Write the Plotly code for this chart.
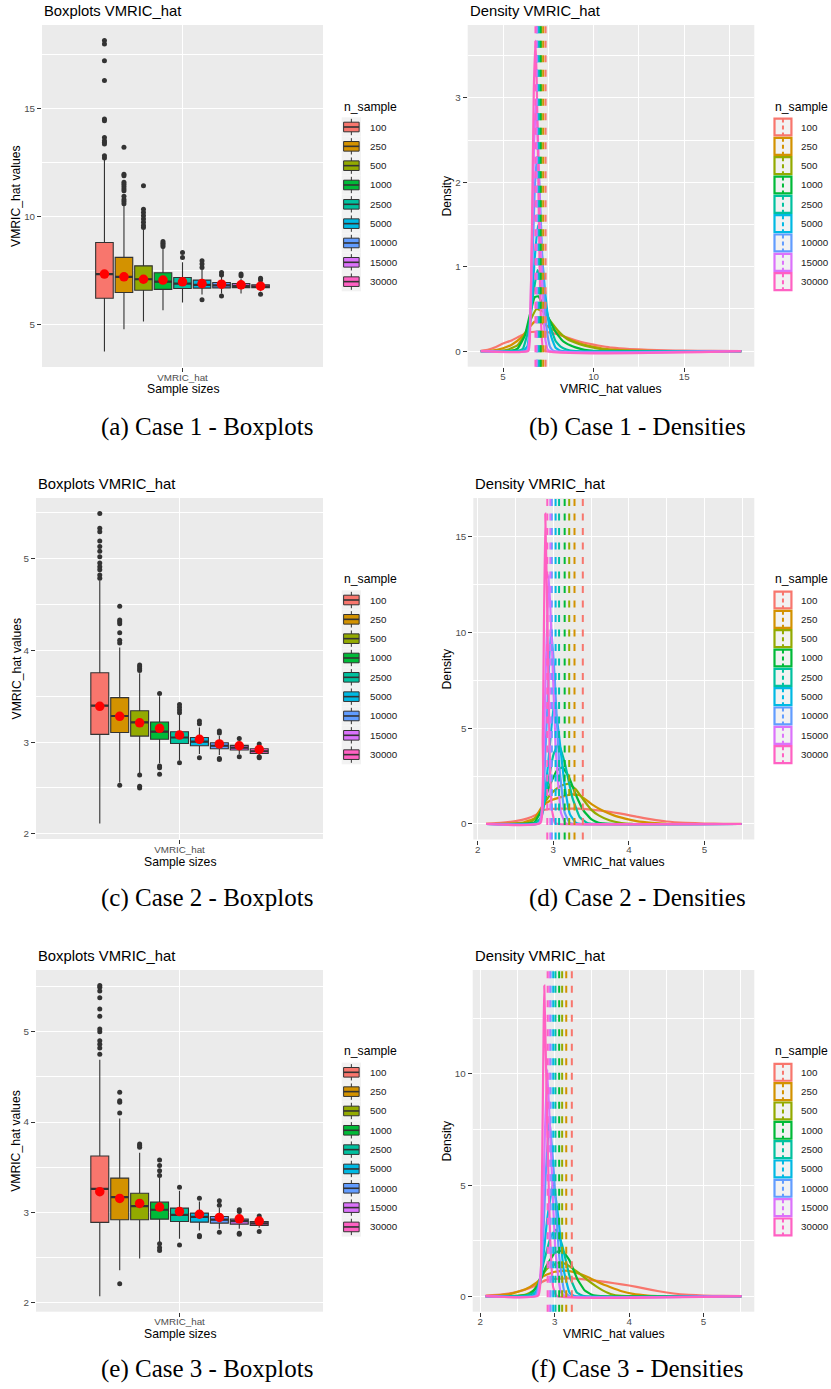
import numpy as np
import plotly.graph_objects as go

W, H = 831, 1389

n_sample = ["100", "250", "500", "1000", "2500", "5000", "10000", "15000", "30000"]
palette = ["#F8766D", "#D39200", "#93AA00", "#00BA38", "#00C19F",
           "#00B9E3", "#619CFF", "#DB72FB", "#FF61C3"]

# ---------------- Case 1 : boxplot statistics ----------------
case1_q1 = [6.23, 6.50, 6.60, 6.64, 6.68, 6.70, 6.71, 6.72, 6.72]
case1_med = [7.35, 7.22, 7.11, 7.00, 6.91, 6.85, 6.83, 6.80, 6.77]
case1_q3 = [8.81, 8.12, 7.73, 7.41, 7.19, 7.07, 6.96, 6.91, 6.85]
case1_lo = [3.77, 4.80, 5.15, 5.68, 6.03, 6.40, 6.45, 6.45, 6.55]
case1_hi = [12.65, 10.55, 9.40, 8.55, 7.90, 7.55, 7.25, 7.15, 7.00]
case1_mean = [7.35, 7.22, 7.11, 7.07, 6.99, 6.91, 6.88, 6.85, 6.79]
case1_out = [
    [12.72, 12.82, 13.36, 13.45, 13.52, 13.67, 14.44, 14.52, 16.30, 17.22, 17.99, 18.15],
    [10.60, 10.70, 10.80, 10.95, 11.20, 11.30, 11.40, 11.50, 11.60, 11.90, 11.97, 13.21],
    [9.50, 9.60, 9.75, 9.90, 10.05, 10.20, 10.35, 11.43],
    [8.62, 8.70, 8.78, 8.85],
    [8.12, 8.35],
    [6.16, 7.65, 7.81, 7.96],
    [6.33, 7.31, 7.42],
    [7.27, 7.35],
    [6.42, 7.08, 7.16],
]

# ---------------- Case 2 ----------------
case2_q1 = [3.084, 3.105, 3.065, 3.030, 2.985, 2.960, 2.927, 2.913, 2.876]
case2_med = [3.396, 3.284, 3.215, 3.113, 3.050, 3.004, 2.960, 2.940, 2.900]
case2_q3 = [3.756, 3.484, 3.342, 3.218, 3.113, 3.050, 2.993, 2.964, 2.927]
case2_lo = [2.113, 2.56, 2.66, 2.77, 2.80, 2.87, 2.86, 2.87, 2.85]
case2_hi = [4.76, 4.03, 3.75, 3.50, 3.30, 3.16, 3.07, 3.02, 2.96]
case2_mean = [3.39, 3.28, 3.21, 3.15, 3.076, 3.03, 2.98, 2.96, 2.92]
case2_out = [
    [4.785, 4.82, 4.876, 4.91, 4.95, 5.02, 5.08, 5.13, 5.19, 5.29, 5.33, 5.49],
    [2.53, 4.08, 4.11, 4.19, 4.29, 4.31, 4.33, 4.48],
    [2.50, 2.52, 2.64, 3.78, 3.80, 3.82, 3.84],
    [2.65, 2.72, 2.74, 3.53],
    [2.775, 3.32, 3.35, 3.38, 3.41],
    [2.83, 3.20, 3.23],
    [2.81, 2.82, 3.10, 3.12],
    [2.84, 3.04],
    [2.83, 2.84, 2.98],
]

# ---------------- Case 3 ----------------
case3_q1 = [2.890, 2.920, 2.920, 2.926, 2.900, 2.893, 2.882, 2.871, 2.857]
case3_med = [3.260, 3.170, 3.070, 3.030, 2.974, 2.950, 2.920, 2.905, 2.880]
case3_q3 = [3.625, 3.380, 3.213, 3.114, 3.048, 2.993, 2.956, 2.926, 2.900]
case3_lo = [2.074, 2.36, 2.49, 2.66, 2.71, 2.80, 2.82, 2.82, 2.83]
case3_hi = [4.69, 4.04, 3.66, 3.38, 3.24, 3.12, 3.05, 3.00, 2.95]
case3_mean = [3.23, 3.155, 3.10, 3.06, 3.01, 2.98, 2.945, 2.93, 2.905]
case3_out = [
    [4.75, 4.82, 4.86, 4.90, 5.00, 5.03, 5.17, 5.25, 5.375, 5.45, 5.49, 5.51],
    [2.21, 4.10, 4.22, 4.235, 4.33],
    [3.72, 3.74, 3.757],
    [2.58, 2.61, 2.655, 3.41, 3.46, 3.52, 3.58],
    [2.64, 3.28],
    [2.73, 2.746, 3.158],
    [2.78, 3.08, 3.13],
    [2.76, 2.77, 3.01, 3.03],
    [2.79, 2.96],
]

# ---------------- Density curves ----------------
dens1_x = [
    [3.77, 4.2, 4.5, 5.0, 5.5, 6.0, 6.4, 6.8, 7.2, 7.6, 8.0, 8.5, 9.0, 9.5, 10.0, 10.5, 11.0, 12.0, 13.0, 14.0, 15.0, 16.5, 18.15],
    [3.77, 4.3, 5.0, 5.5, 6.0, 6.4, 6.75, 7.1, 7.5, 8.0, 8.5, 9.0, 9.5, 10.0, 10.5, 11.0, 12.0, 13.0, 14.0, 18.15],
    [3.77, 4.8, 5.3, 5.8, 6.2, 6.5, 6.85, 7.2, 7.6, 8.0, 8.5, 9.0, 9.5, 10.0, 10.5, 11.5, 12.5, 18.15],
    [3.77, 5.4, 5.8, 6.2, 6.5, 6.75, 6.95, 7.2, 7.5, 7.9, 8.3, 8.7, 9.0, 9.5, 10.0, 18.15],
    [3.77, 5.8, 6.1, 6.4, 6.65, 6.9, 7.1, 7.35, 7.6, 7.9, 8.2, 8.5, 9.0, 18.15],
    [3.77, 6.1, 6.35, 6.55, 6.75, 6.92, 7.1, 7.3, 7.45, 7.65, 7.9, 8.2, 18.15],
    [3.77, 6.3, 6.45, 6.6, 6.75, 6.87, 7.0, 7.15, 7.3, 7.45, 7.6, 7.8, 18.15],
    [3.77, 6.35, 6.47, 6.6, 6.72, 6.83, 6.95, 7.08, 7.2, 7.35, 7.5, 18.15],
    [3.77, 6.4, 6.5, 6.6, 6.7, 6.79, 6.86, 6.93, 7.02, 7.12, 7.25, 18.15],
]
dens1_y = [
    [0.005, 0.02, 0.04, 0.09, 0.13, 0.185, 0.22, 0.23, 0.23, 0.22, 0.2, 0.165, 0.13, 0.1, 0.077, 0.058, 0.042, 0.025, 0.016, 0.01, 0.006, 0.003, 0.001],
    [0.0, 0.005, 0.035, 0.08, 0.16, 0.27, 0.35, 0.34, 0.29, 0.22, 0.16, 0.11, 0.075, 0.05, 0.032, 0.02, 0.008, 0.003, 0.001, 0.0],
    [0.0, 0.003, 0.02, 0.07, 0.19, 0.36, 0.5, 0.47, 0.36, 0.25, 0.15, 0.1, 0.065, 0.04, 0.022, 0.007, 0.001, 0.0],
    [0.0, 0.003, 0.03, 0.18, 0.45, 0.64, 0.65, 0.55, 0.4, 0.23, 0.12, 0.07, 0.045, 0.015, 0.003, 0.0],
    [0.0, 0.003, 0.03, 0.25, 0.65, 0.96, 0.85, 0.55, 0.3, 0.12, 0.05, 0.02, 0.002, 0.0],
    [0.0, 0.003, 0.06, 0.45, 1.1, 1.49, 1.25, 0.75, 0.45, 0.18, 0.04, 0.003, 0.0],
    [0.0, 0.003, 0.15, 0.9, 1.9, 2.3, 2.0, 1.2, 0.55, 0.2, 0.05, 0.003, 0.0],
    [0.0, 0.003, 0.2, 1.3, 2.5, 2.95, 2.4, 1.3, 0.55, 0.12, 0.01, 0.0],
    [0.0, 0.003, 0.3, 1.5, 3.1, 3.68, 3.2, 2.3, 1.0, 0.25, 0.01, 0.0],
]

dens2_x = [
    [2.11, 2.3, 2.5, 2.65, 2.78, 2.85, 2.95, 3.1, 3.3, 3.5, 3.65, 3.8, 3.95, 4.1, 4.3, 4.5, 4.75, 5.0, 5.25, 5.49],
    [2.11, 2.4, 2.6, 2.75, 2.85, 2.95, 3.1, 3.25, 3.35, 3.5, 3.65, 3.8, 3.95, 4.1, 4.3, 4.5, 5.49],
    [2.11, 2.55, 2.7, 2.82, 2.9, 3.0, 3.1, 3.2, 3.3, 3.4, 3.5, 3.6, 3.75, 3.9, 4.05, 5.49],
    [2.11, 2.6, 2.75, 2.85, 2.95, 3.05, 3.12, 3.2, 3.3, 3.4, 3.5, 3.6, 3.75, 5.49],
    [2.11, 2.75, 2.83, 2.9, 3.0, 3.07, 3.15, 3.25, 3.35, 3.45, 3.55, 5.49],
    [2.11, 2.8, 2.86, 2.94, 3.01, 3.07, 3.15, 3.22, 3.3, 3.38, 5.49],
    [2.11, 2.81, 2.86, 2.92, 2.97, 3.02, 3.08, 3.15, 3.22, 3.28, 5.49],
    [2.11, 2.82, 2.86, 2.9, 2.94, 2.98, 3.03, 3.1, 3.16, 3.2, 5.49],
    [2.11, 2.83, 2.86, 2.893, 2.92, 2.95, 2.98, 3.02, 3.06, 5.49],
]
dens2_y = [
    [0.02, 0.06, 0.15, 0.28, 0.5, 0.7, 0.78, 0.8, 0.8, 0.75, 0.68, 0.6, 0.5, 0.38, 0.24, 0.13, 0.06, 0.025, 0.008, 0.002],
    [0.0, 0.01, 0.07, 0.3, 0.9, 1.2, 1.4, 1.55, 1.5, 1.05, 0.7, 0.45, 0.28, 0.15, 0.06, 0.01, 0.0],
    [0.0, 0.01, 0.1, 0.5, 1.2, 1.7, 2.0, 2.1, 1.8, 1.25, 0.75, 0.45, 0.18, 0.05, 0.005, 0.0],
    [0.0, 0.005, 0.08, 0.8, 2.0, 2.8, 2.95, 2.5, 1.5, 0.7, 0.25, 0.06, 0.005, 0.0],
    [0.0, 0.02, 0.3, 1.5, 3.6, 4.2, 3.2, 1.4, 0.35, 0.05, 0.003, 0.0],
    [0.0, 0.02, 0.6, 3.5, 6.35, 4.8, 2.0, 0.5, 0.06, 0.0, 0.0],
    [0.0, 0.03, 1.0, 6.0, 10.4, 7.5, 3.0, 0.6, 0.04, 0.0, 0.0],
    [0.0, 0.05, 2.0, 8.0, 13.0, 9.5, 4.0, 0.6, 0.04, 0.0, 0.0],
    [0.0, 0.05, 4.5, 16.2, 11.0, 4.0, 0.8, 0.05, 0.0, 0.0],
]

dens3_x = [
    [2.07, 2.3, 2.5, 2.65, 2.78, 2.88, 3.0, 3.2, 3.4, 3.6, 3.8, 4.0, 4.2, 4.4, 4.6, 4.8, 5.0, 5.25, 5.51],
    [2.07, 2.2, 2.4, 2.6, 2.75, 2.85, 3.0, 3.15, 3.3, 3.45, 3.6, 3.75, 3.9, 4.05, 4.25, 4.45, 5.51],
    [2.07, 2.45, 2.6, 2.72, 2.8, 2.9, 3.05, 3.15, 3.3, 3.45, 3.6, 3.75, 3.9, 5.51],
    [2.07, 2.5, 2.65, 2.78, 2.88, 3.0, 3.1, 3.2, 3.3, 3.4, 3.5, 3.62, 5.51],
    [2.07, 2.6, 2.75, 2.85, 2.95, 3.02, 3.1, 3.2, 3.3, 3.4, 5.51],
    [2.07, 2.7, 2.8, 2.9, 2.98, 3.05, 3.12, 3.2, 3.27, 5.51],
    [2.07, 2.74, 2.82, 2.88, 2.93, 2.99, 3.06, 3.13, 3.2, 5.51],
    [2.07, 2.76, 2.82, 2.87, 2.9, 2.95, 3.01, 3.08, 3.14, 5.51],
    [2.07, 2.78, 2.82, 2.86, 2.9, 2.94, 2.98, 3.03, 5.51],
]
dens3_y = [
    [0.02, 0.08, 0.2, 0.35, 0.55, 0.72, 0.78, 0.8, 0.76, 0.68, 0.58, 0.48, 0.35, 0.22, 0.12, 0.06, 0.03, 0.01, 0.002],
    [0.0, 0.02, 0.1, 0.3, 0.6, 0.9, 1.1, 1.15, 1.05, 0.85, 0.6, 0.4, 0.22, 0.1, 0.03, 0.005, 0.0],
    [0.0, 0.01, 0.06, 0.25, 0.75, 1.25, 1.5, 1.45, 1.1, 0.7, 0.35, 0.1, 0.01, 0.0],
    [0.0, 0.005, 0.06, 0.5, 1.3, 1.95, 2.05, 1.6, 0.8, 0.27, 0.06, 0.0, 0.0],
    [0.0, 0.01, 0.2, 1.5, 2.7, 3.0, 2.3, 0.9, 0.15, 0.0, 0.0],
    [0.0, 0.01, 0.5, 3.5, 5.1, 3.5, 1.2, 0.15, 0.0, 0.0],
    [0.0, 0.02, 1.0, 5.5, 8.0, 5.5, 1.8, 0.2, 0.0, 0.0],
    [0.0, 0.02, 1.5, 7.5, 10.2, 6.5, 2.0, 0.2, 0.0, 0.0],
    [0.0, 0.03, 3.0, 13.98, 7.5, 2.5, 0.4, 0.0, 0.0],
]

case_labels = ["1", "2", "3"]
box_title = "Boxplots VMRIC_hat"
dens_title = "Density VMRIC_hat"

# ---------------- layout geometry (pixels of the page) ----------------
box_panels = [(42, 323, 25, 367), (36, 323, 498, 839), (36, 323, 970, 1311.7)]
dens_panels = [(467.7, 754.3, 25, 366.7), (473.3, 754.3, 498, 839.5), (472.7, 754.3, 970, 1311.7)]
title_y = [11, 484, 955.7]
xtitle_y = [389, 862.3, 1334]
leg_title_y = [106.7, 579, 1051]
leg_first_y = [127, 600, 1072.3]
caption_y = [427, 898, 1369]
KEY = 19.33

cases = [
    dict(q1=case1_q1, med=case1_med, q3=case1_q3, lo=case1_lo, hi=case1_hi, mean=case1_mean,
         out=case1_out, dx=dens1_x, dy=dens1_y, bdt=5, xdt=5, ydt=1),
    dict(q1=case2_q1, med=case2_med, q3=case2_q3, lo=case2_lo, hi=case2_hi, mean=case2_mean,
         out=case2_out, dx=dens2_x, dy=dens2_y, bdt=1, xdt=1, ydt=5),
    dict(q1=case3_q1, med=case3_med, q3=case3_q3, lo=case3_lo, hi=case3_hi, mean=case3_mean,
         out=case3_out, dx=dens3_x, dy=dens3_y, bdt=1, xdt=1, ydt=5),
]

FONT = "Liberation Sans, Arial, sans-serif"


def px(x):
    return x / W


def py(y):
    return 1 - y / H


def refs(k):
    return ("x" if k == 1 else f"x{k}", "y" if k == 1 else f"y{k}")


def expand(lo, hi, f=0.05):
    d = (hi - lo) * f
    return [lo - d, hi + d]


def axis_common(dt=None):
    d = dict(showgrid=True, gridcolor="white", gridwidth=1.1, zeroline=False, showline=False,
             ticks="outside", ticklen=4, tickwidth=1, tickcolor="#333333",
             tickfont=dict(family=FONT, size=9.8, color="#4D4D4D"))
    if dt is not None:
        d.update(dtick=dt, tick0=0,
                 minor=dict(dtick=dt / 2, tick0=0, showgrid=True, gridcolor="white",
                            gridwidth=0.55, ticks=""))
    return d


fig = go.Figure()
shapes = []
annotations = []


def text(x, y, s, size, color="black", xanchor="left", angle=0, family=FONT):
    annotations.append(dict(x=px(x), y=py(y), xref="paper", yref="paper", text=s,
                            showarrow=False, xanchor=xanchor, yanchor="middle",
                            textangle=angle, font=dict(family=family, size=size, color=color)))


def rect(x0, y0, x1, y1, fill, line_color=None, lw=0):
    shapes.append(dict(type="rect", xref="paper", yref="paper",
                       x0=px(x0), x1=px(x1), y0=py(y1), y1=py(y0),
                       fillcolor=fill, line=dict(color=line_color or fill, width=lw), layer="above"))


def seg(x0, y0, x1, y1, color, lw, dash="solid"):
    shapes.append(dict(type="line", xref="paper", yref="paper",
                       x0=px(x0), x1=px(x1), y0=py(y0), y1=py(y1),
                       line=dict(color=color, width=lw, dash=dash), layer="above"))


ncat = len(n_sample)
center = (ncat - 1) / 2
half = 0.6 / (0.75 / ncat)
letters = "abcdef"

for i, c in enumerate(cases):
    kb, kd = 2 * i + 1, 2 * i + 2
    xb, yb = refs(kb)
    xd, yd = refs(kd)

    # ---- boxplots ----
    for j, n in enumerate(n_sample):
        fig.add_trace(go.Box(x=[n], q1=[c["q1"][j]], median=[c["med"][j]], q3=[c["q3"][j]],
                             lowerfence=[c["lo"][j]], upperfence=[c["hi"][j]],
                             fillcolor=palette[j], line=dict(color="#333333", width=1.1),
                             width=0.9, whiskerwidth=0, boxpoints=False,
                             xaxis=xb, yaxis=yb, showlegend=False, hoverinfo="skip"))
        # thicker median bar (ggplot fattens the median line)
        m = c["med"][j]
        fig.add_trace(go.Box(x=[n], q1=[m], median=[m], q3=[m], lowerfence=[m], upperfence=[m],
                             fillcolor="rgba(0,0,0,0)", line=dict(color="#333333", width=2.2),
                             width=0.9, whiskerwidth=0, boxpoints=False,
                             xaxis=xb, yaxis=yb, showlegend=False, hoverinfo="skip"))
        fig.add_trace(go.Scatter(x=[n] * len(c["out"][j]), y=c["out"][j], mode="markers",
                                 marker=dict(color="#333333", size=5),
                                 xaxis=xb, yaxis=yb, showlegend=False, hoverinfo="skip"))
    fig.add_trace(go.Scatter(x=n_sample, y=c["mean"], mode="markers",
                             marker=dict(color="red", size=9.5),
                             xaxis=xb, yaxis=yb, showlegend=False, hoverinfo="skip"))

    allv = c["lo"] + c["hi"] + [v for o in c["out"] for v in o]
    yr = expand(min(allv), max(allv))

    L, R, T, B = box_panels[i]
    xa = axis_common()
    xa.update(domain=[px(L), px(R)], anchor=yb, type="category", categoryorder="array",
              categoryarray=n_sample, range=[center - half, center + half],
              tickvals=[n_sample[ncat // 2]], ticktext=["VMRIC_hat"], ticklabelstandoff=-3)
    ya = axis_common(c["bdt"])
    ya.update(domain=[py(B), py(T)], anchor=xb, range=yr)
    fig.update_layout({("xaxis" if kb == 1 else f"xaxis{kb}"): xa,
                       ("yaxis" if kb == 1 else f"yaxis{kb}"): ya})

    text(L, title_y[i], box_title, 14.8)
    text(16, (T + B) / 2, "VMRIC_hat values", 12.2, xanchor="center", angle=-90)
    text((L + R) / 2, xtitle_y[i], "Sample sizes", 12.2, xanchor="center")

    # legend (boxplot keys)
    kl = 341.7
    text(kl, leg_title_y[i], "n_sample", 12.2)
    for j, n in enumerate(n_sample):
        cy = leg_first_y[i] + j * KEY
        rect(kl, cy - KEY / 2, kl + KEY, cy + KEY / 2, "#F2F2F2")
        cx = kl + KEY / 2
        seg(cx, cy - KEY / 2 + 1.5, cx, cy + KEY / 2 - 1.5, "#333333", 1)
        rect(kl + 1.9, cy - 4.8, kl + KEY - 1.9, cy + 4.8, palette[j], "#333333", 1)
        seg(kl + 1.9, cy, kl + KEY - 1.9, cy, "#333333", 1.6)
        text(kl + 26, cy, n, 9.8, color="#1A1A1A")

    # ---- densities ----
    for j, n in enumerate(n_sample):
        fig.add_trace(go.Scatter(x=c["dx"][j], y=c["dy"][j], mode="lines",
                                 line=dict(color=palette[j], width=2.2, shape="spline", smoothing=0.35),
                                 xaxis=xd, yaxis=yd, showlegend=False, hoverinfo="skip"))
    for j, n in enumerate(n_sample):
        shapes.append(dict(type="line", xref=xd, yref=f"{yd} domain", x0=c["mean"][j], x1=c["mean"][j],
                           y0=0, y1=1, line=dict(color=palette[j], width=2, dash="7px,7.5px"),
                           layer="above"))

    allx = [v for s in c["dx"] for v in s]
    ally = [v for s in c["dy"] for v in s]
    L, R, T, B = dens_panels[i]
    xa = axis_common(c["xdt"])
    xa.update(domain=[px(L), px(R)], anchor=yd, range=expand(min(allx), max(allx)),
              ticklabelstandoff=-3)
    ya = axis_common(c["ydt"])
    ya.update(domain=[py(B), py(T)], anchor=xd, range=expand(min(ally), max(ally)))
    fig.update_layout({f"xaxis{kd}": xa, f"yaxis{kd}": ya})

    text(L, title_y[i], dens_title, 14.8)
    text(446.7, (T + B) / 2, "Density", 12.2, xanchor="center", angle=-90)
    text((L + R) / 2, xtitle_y[i], "VMRIC_hat values", 12.2, xanchor="center")

    kl = 773.3
    text(kl, leg_title_y[i], "n_sample", 12.2)
    for j, n in enumerate(n_sample):
        cy = leg_first_y[i] + j * KEY
        rect(kl + 1.2, cy - KEY / 2 + 1.2, kl + KEY - 1.2, cy + KEY / 2 - 1.2, "#F2F2F2", palette[j], 2.2)
        cx = kl + KEY / 2
        seg(cx, cy - KEY / 2 + 1.2, cx, cy + KEY / 2 - 1.2, palette[j], 2, dash="4px,3px")
        text(kl + 25.7, cy, n, 9.8, color="#1A1A1A")

    # captions
    text(206.5, caption_y[i], f"({letters[2 * i]}) Case {case_labels[i]} - Boxplots", 25,
         xanchor="center", family="Liberation Serif, serif")
    text(637, caption_y[i], f"({letters[2 * i + 1]}) Case {case_labels[i]} - Densities", 25,
         xanchor="center", family="Liberation Serif, serif")

fig.update_layout(width=W, height=H, margin=dict(l=0, r=0, t=0, b=0),
                  paper_bgcolor="white", plot_bgcolor="#EBEBEB",
                  font=dict(family=FONT), showlegend=False,
                  shapes=shapes, annotations=annotations)

# remove the default 8px body margin of the page so the figure fills the window exactly
fig.write_html("out.html", config={"displayModeBar": False},
               post_script="document.body.style.margin='0';")
